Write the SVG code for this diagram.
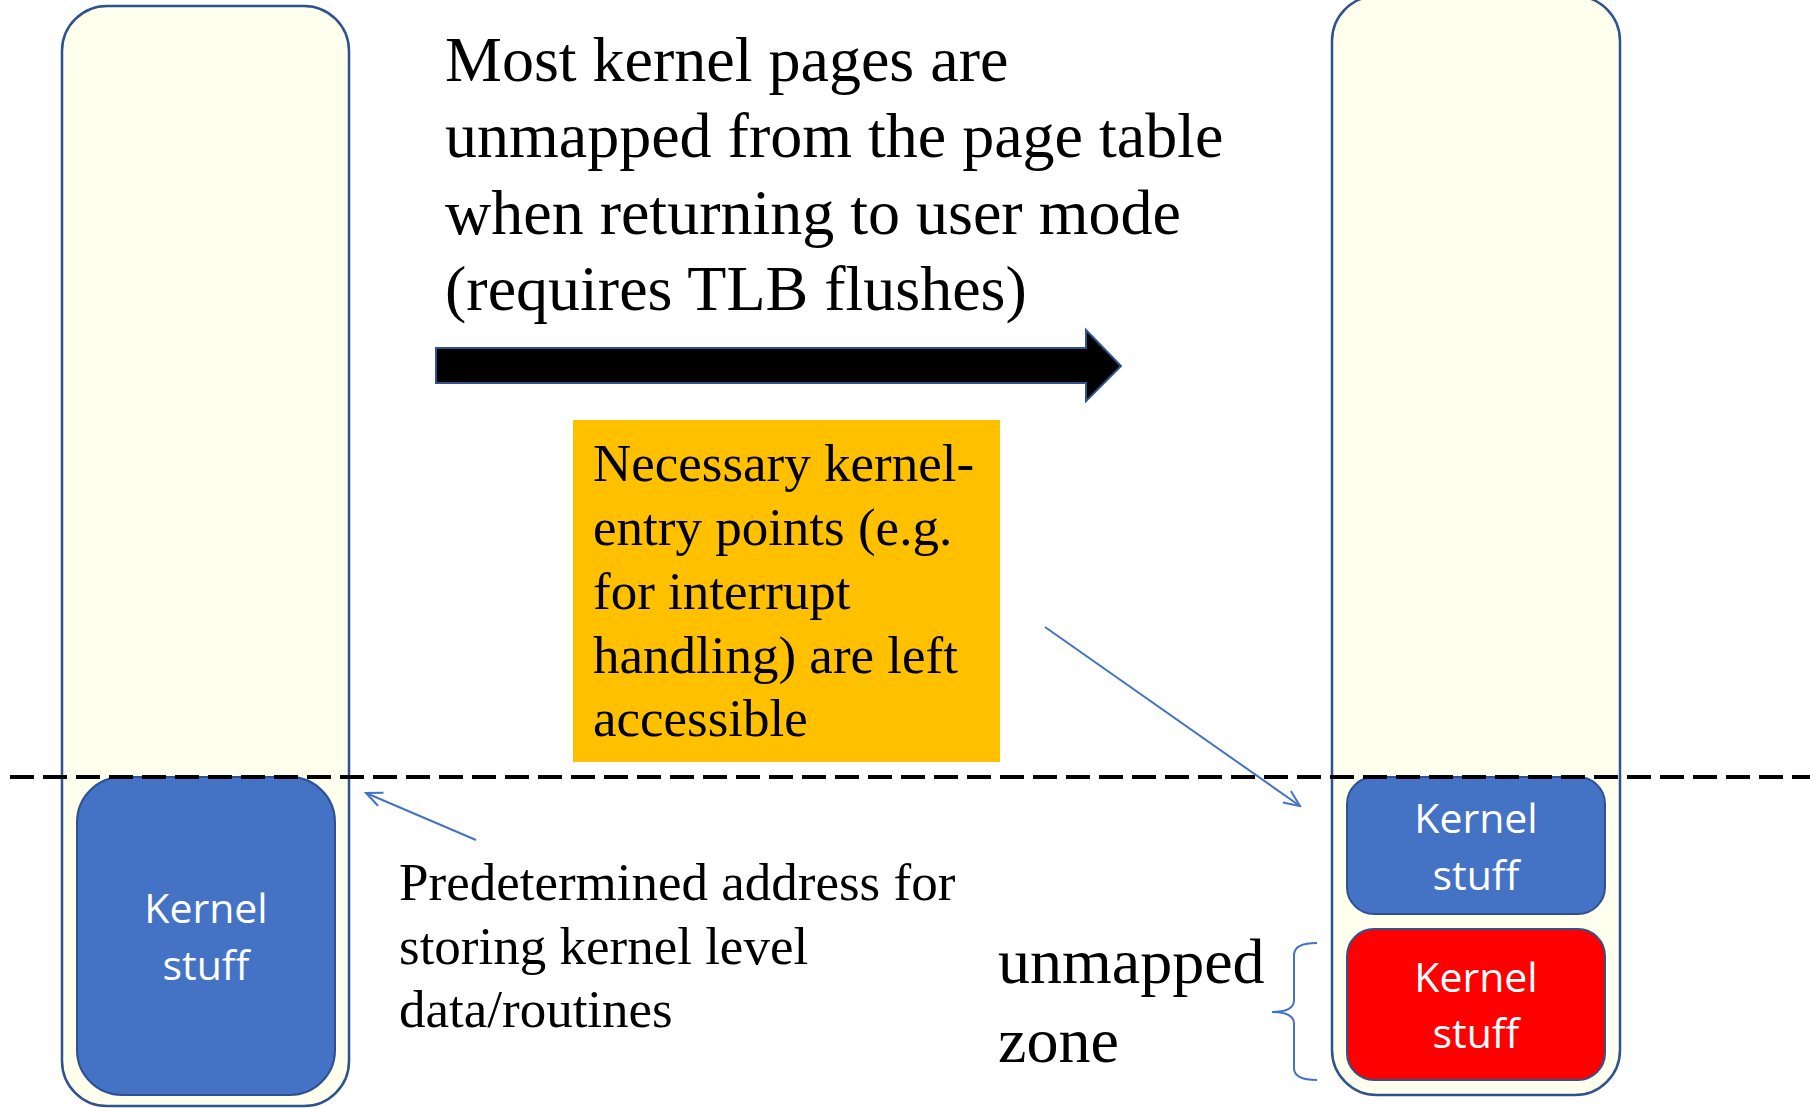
<svg xmlns="http://www.w3.org/2000/svg" width="1810" height="1108" viewBox="0 0 1810 1108">
<style>
.col{fill:#FFFFEE;stroke:#2F528F;stroke-width:2.5}
.blue{fill:#4472C4;stroke:#2F528F;stroke-width:2}
.red{fill:#FF0000;stroke:#2F528F;stroke-width:2}
.kt{font-family:"Open Sans","Liberation Sans",sans-serif;font-size:41px;fill:#FFFFFF;text-anchor:middle}
.tt{font-family:"Liberation Serif","Times New Roman",serif;fill:#000000}
.conn{fill:none;stroke:#4472C4;stroke-width:2}
</style>
<defs>
<marker id="open" viewBox="0 0 20 20" refX="18" refY="10" markerWidth="20" markerHeight="20" markerUnits="userSpaceOnUse" orient="auto">
<path d="M2,3 L18,10 L2,17" fill="none" stroke="#4472C4" stroke-width="2"/>
</marker>
</defs>
<rect width="1810" height="1108" fill="#FFFFFF"/>
<g id="left-column">
<rect class="col" x="62" y="6" width="287" height="1100" rx="45" ry="45"/>
</g>
<g id="right-column">
<rect class="col" x="1332" y="-4" width="288" height="1099" rx="45" ry="45"/>
</g>
<g id="left-kernel">
<rect class="blue" x="77" y="777" width="258" height="318" rx="45" ry="45"/>
<text class="kt" x="206" y="923">Kernel</text>
<text class="kt" x="206" y="980">stuff</text>
</g>
<g id="right-kernel-mapped">
<rect class="blue" x="1347" y="777" width="258" height="137" rx="27" ry="27"/>
<text class="kt" x="1476" y="833">Kernel</text>
<text class="kt" x="1476" y="890">stuff</text>
</g>
<g id="right-kernel-unmapped">
<rect class="red" x="1347" y="929" width="258" height="151" rx="27" ry="27"/>
<text class="kt" x="1476" y="992">Kernel</text>
<text class="kt" x="1476" y="1048">stuff</text>
</g>
<g id="title">
<text class="tt" font-size="64" x="445" y="81">Most kernel pages are</text>
<text class="tt" font-size="64" x="445" y="157">unmapped from the page table</text>
<text class="tt" font-size="64" x="445" y="234">when returning to user mode</text>
<text class="tt" font-size="64" x="445" y="310">(requires TLB flushes)</text>
</g>
<g id="big-arrow">
<path d="M436,348 L1086,348 L1086,330 L1121,366 L1086,401 L1086,383 L436,383 Z" fill="#000000" stroke="#2F528F" stroke-width="2"/>
</g>
<g id="entry-note">
<rect x="573" y="420" width="427" height="342" fill="#FFC000"/>
<text class="tt" font-size="53" x="593" y="481">Necessary kernel-</text>
<text class="tt" font-size="53" x="593" y="545">entry points (e.g.</text>
<text class="tt" font-size="53" x="593" y="609">for interrupt</text>
<text class="tt" font-size="53" x="593" y="673">handling) are left</text>
<text class="tt" font-size="53" x="593" y="736">accessible</text>
</g>
<g id="address-note">
<text class="tt" font-size="53" x="399" y="900">Predetermined address for</text>
<text class="tt" font-size="53" x="399" y="964">storing kernel level</text>
<text class="tt" font-size="53" x="399" y="1027">data/routines</text>
</g>
<g id="unmapped-label">
<text class="tt" font-size="64" x="998" y="983">unmapped</text>
<text class="tt" font-size="64" x="998" y="1062">zone</text>
<path class="conn" stroke-width="1.5" d="M1317,943 Q1294,943 1294,955 L1294,1000 Q1294,1012 1272,1012 Q1294,1012 1294,1024 L1294,1068 Q1294,1080 1317,1080"/>
</g>
<g id="connectors">
<line x1="10" y1="777" x2="1810" y2="777" stroke="#000000" stroke-width="4" stroke-dasharray="24 9"/>
<line class="conn" x1="476" y1="840" x2="366" y2="793" marker-end="url(#open)"/>
<line class="conn" x1="1045" y1="627" x2="1300" y2="806" marker-end="url(#open)"/>
</g>
</svg>
